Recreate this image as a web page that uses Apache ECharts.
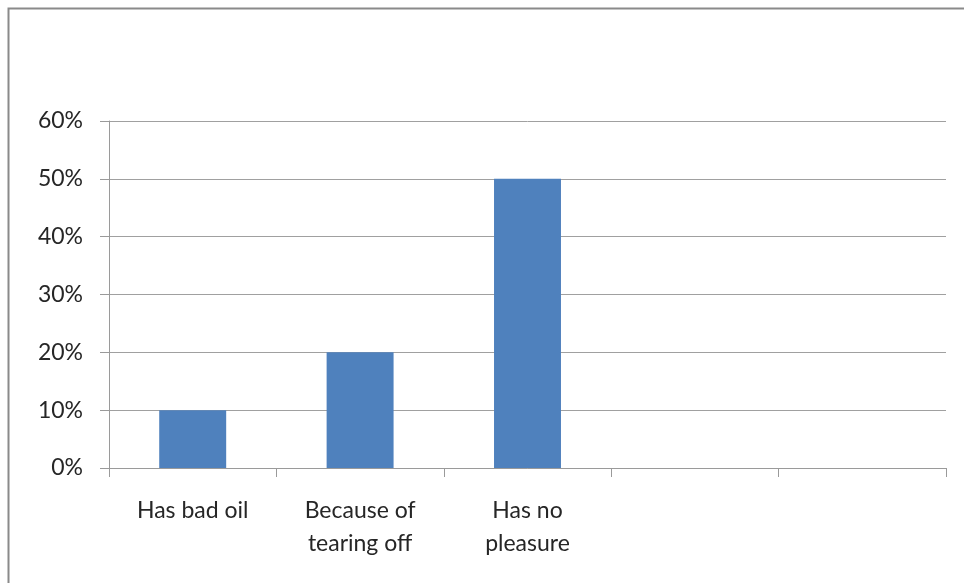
<!DOCTYPE html>
<html>
<head>
<meta charset="utf-8">
<script src="https://cdn.jsdelivr.net/npm/echarts@6/dist/echarts.min.js"></script>
<style>
  html, body { margin: 0; padding: 0; background: #fff; }
  #chart { width: 964px; height: 583px; }
</style>
</head>
<body>
<div id="chart"></div>
<script>
// Reasons, share of responses
const categories = ['Has bad oil', 'Because of\ntearing off', 'Has no\npleasure', '', ''];
const shares = [0.10, 0.20, 0.50, null, null];
const yTicks = { min: 0, max: 0.6, step: 0.1 };

const chart = echarts.init(document.getElementById('chart'));
const fontFamily = 'Lato, "Open Sans", sans-serif';

chart.setOption({
  animation: false,
  graphic: [{
    type: 'rect',
    shape: { x: 8.5, y: 8.5, width: 1000, height: 1000 },
    style: { fill: 'none', stroke: '#8a8a8a', lineWidth: 2 },
    silent: true
  }],
  grid: { left: 109, right: 18, top: 121, bottom: 115, containLabel: false },
  xAxis: {
    type: 'category',
    data: categories,
    axisLine: { lineStyle: { color: '#9a9a9a', width: 1 } },
    axisTick: { show: true, length: 9, lineStyle: { color: '#9a9a9a' } },
    axisLabel: {
      color: '#262626',
      fontFamily: fontFamily,
      fontSize: 23,
      lineHeight: 33,
      margin: 26,
      interval: 0
    }
  },
  yAxis: {
    type: 'value',
    min: yTicks.min,
    max: yTicks.max,
    interval: yTicks.step,
    axisLine: { show: true, lineStyle: { color: '#9a9a9a', width: 1 } },
    axisTick: { show: true, length: 9, lineStyle: { color: '#9a9a9a' } },
    splitLine: { lineStyle: { color: '#a0a0a0', width: 1 } },
    axisLabel: {
      color: '#262626',
      fontFamily: fontFamily,
      fontSize: 23,
      margin: 26,
      formatter: v => Math.round(v * 100) + '%'
    }
  },
  series: [{
    type: 'bar',
    data: shares,
    barWidth: '40%',
    itemStyle: { color: '#4f81bd' }
  }]
});
</script>
</body>
</html>
